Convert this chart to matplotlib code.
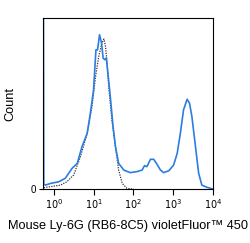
import numpy as np
import matplotlib
matplotlib.use("Agg")
import matplotlib.pyplot as plt

plt.rcParams['font.family'] = ['Liberation Sans', 'DejaVu Sans']

# log10 fluorescence, count (% of max scale)
stained_logx = [-0.26, -0.25, -0.21, -0.08, 0.13, 0.29, 0.46, 0.59, 0.71, 0.84, 0.92, 1.00,
                1.06, 1.10, 1.15, 1.20, 1.24, 1.28, 1.32, 1.36, 1.42, 1.49, 1.55, 1.63,
                1.76, 1.92, 2.09, 2.22, 2.28, 2.34, 2.43, 2.51, 2.58, 2.68, 2.76, 2.89,
                3.01, 3.10, 3.18, 3.26, 3.35, 3.41, 3.47, 3.56, 3.64, 3.72, 3.85, 4.00]
stained_y = [130, 3.0, 2.3, 3.3, 4.3, 6.3, 12.1, 15.0, 24.8, 32.6, 44.3, 58.0,
             81.4, 81.4, 90.2, 85.4, 76.6, 75.6, 76.6, 67.8, 54.1, 36.5, 24.8, 15.0,
             11.1, 9.6, 10.2, 11.1, 13.7, 13.1, 17.4, 17.4, 15.0, 11.1, 9.6, 10.7,
             14.0, 20.8, 32.6, 46.3, 52.5, 50.2, 42.4, 24.8, 9.2, 2.3, 1.0, 0.0]

control_logx = [-0.25, -0.08, 0.17, 0.33, 0.50, 0.67, 0.84, 0.96, 1.05, 1.13, 1.21, 1.26,
                1.30, 1.34, 1.38, 1.46, 1.55, 1.63, 1.72, 1.84, 2.01]
control_y = [0.8, 1.4, 2.3, 4.3, 8.2, 18.9, 32.6, 48.2, 65.8, 77.5, 85.4, 87.7,
             83.4, 73.6, 60.0, 40.4, 24.8, 11.1, 3.3, 0.4, 0.0]

decades = [0, 1, 2, 3, 4]

fig = plt.figure(figsize=(2.5, 2.43), dpi=100)
ax = fig.add_axes([0.172, 0.222, 0.68, 0.704])
ax.set_xscale('log')
ax.plot(10 ** np.array(control_logx), control_y, color='#333333', lw=0.9, ls=(0, (1, 1)))
ax.plot(10 ** np.array(stained_logx), stained_y, color='#2b7de0', lw=1.2)
ax.set_xlim(10 ** -0.27, 1e4)
ax.set_ylim(0, 100)

ax.set_xticks([10 ** d for d in decades])
ax.set_xticklabels([r'$10^{%d}$' % d for d in decades], fontsize=7)
ax.tick_params(axis='x', which='major', length=4, width=0.8, direction='out', pad=2)
ax.tick_params(axis='x', which='minor', length=2, width=0.6, direction='out')
ax.set_yticks([0])
ax.set_yticklabels(['0'], fontsize=7)
ax.tick_params(axis='y', length=3, width=0.8, direction='out', pad=2)
for s in ax.spines.values():
    s.set_linewidth(0.8)

ax.set_xlabel('Mouse Ly-6G (RB6-8C5) violetFluor\u2122 450', fontsize=9.2, labelpad=6)
ax.set_ylabel('Count', fontsize=9.2, labelpad=10)

fig.savefig('out.png', dpi=100)
